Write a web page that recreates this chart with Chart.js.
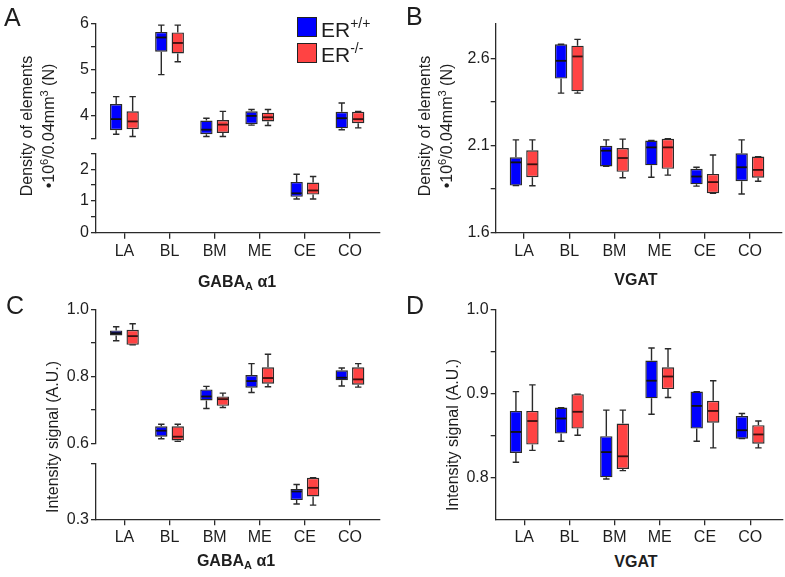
<!DOCTYPE html>
<html><head><meta charset="utf-8">
<script src="https://cdn.jsdelivr.net/npm/chart.js@4.4.1/dist/chart.umd.min.js"></script>
<style>
body{margin:0;background:#fff;}
#root{position:relative;width:785px;height:577px;overflow:hidden;background:#fff;font-family:"Liberation Sans",Arial,sans-serif;color:#1e1e1e;}
.cv{position:absolute;}
.t{position:absolute;white-space:nowrap;line-height:1;}
.letter{font-size:25px;line-height:25px;}
.ytitle{position:absolute;font-size:16px;line-height:22px;text-align:center;white-space:nowrap;transform:translate(-50%,-50%) rotate(-90deg);}
.xtitle{position:absolute;font-size:16px;line-height:16px;font-weight:bold;white-space:nowrap;transform:translateX(-50%);}
.xtitle sub{font-size:11px;vertical-align:-3px;line-height:0;}
.ytitle sup{font-size:11px;vertical-align:6px;line-height:0;}
.sq{position:absolute;width:20px;height:20px;box-sizing:border-box;border:1.4px solid #222;}
.leg{position:absolute;font-size:21px;line-height:21px;white-space:nowrap;}
.leg span{font-size:14px;vertical-align:9px;line-height:0;}
</style></head><body><div id="root">

<div class="cv" style="left:0;top:0;width:390px;height:150px"><canvas id="cA1"></canvas></div>
<div class="cv" style="left:0;top:140px;width:390px;height:125px"><canvas id="cA2"></canvas></div>
<div class="cv" style="left:400px;top:0;width:385px;height:265px"><canvas id="cB"></canvas></div>
<div class="cv" style="left:0;top:290px;width:390px;height:165px"><canvas id="cC1"></canvas></div>
<div class="cv" style="left:0;top:452px;width:390px;height:100px"><canvas id="cC2"></canvas></div>
<div class="cv" style="left:400px;top:290px;width:385px;height:262px"><canvas id="cD"></canvas></div>

<div class="t letter" style="left:4px;top:4.7px">A</div>
<div class="t letter" style="left:406px;top:4px">B</div>
<div class="t letter" style="left:6px;top:293px">C</div>
<div class="t letter" style="left:406px;top:293px">D</div>

<div class="sq" style="left:297px;top:17px;background:#0000ff"></div>
<div class="sq" style="left:297px;top:43px;background:#ff4343"></div>
<div class="leg" style="left:321px;top:18.9px">ER<span>+/+</span></div>
<div class="leg" style="left:321px;top:43.9px">ER<span>-/-</span></div>

<div class="ytitle" style="left:37.8px;top:126px">Density of elements<br>•10<sup>6</sup>/0.04mm<sup>3</sup> (N)</div>
<div class="ytitle" style="left:436.2px;top:126px">Density of elements<br>•10<sup>6</sup>/0.04mm<sup>3</sup> (N)</div>
<div class="ytitle" style="left:52.8px;top:437px;line-height:20px">Intensity signal (A.U.)</div>
<div class="ytitle" style="left:452.5px;top:435px;line-height:20px">Intensity signal (A.U.)</div>

<div class="xtitle" style="left:237px;top:273.8px">GABA<sub>A</sub> α1</div>
<div class="xtitle" style="left:636px;top:271.5px">VGAT</div>
<div class="xtitle" style="left:236px;top:553.2px">GABA<sub>A</sub> α1</div>
<div class="xtitle" style="left:636px;top:553.5px">VGAT</div>
</div>
<script>
// ---------- data (each entry: [whisker min, Q1, median, Q3, whisker max]) ----------
const categories = ['LA','BL','BM','ME','CE','CO'];
const seriesNames = ['ER+/+','ER-/-'];

const gabaDensityWT = [[3.59,3.68,3.92,4.25,4.41],[4.89,5.39,5.70,5.82,5.97],[3.54,3.59,3.69,3.89,3.94],[3.79,3.81,3.99,4.09,4.13],[1.06,1.13,1.24,1.60,1.84],[3.69,3.72,3.94,4.08,4.27]];
const gabaDensityKO = [[3.54,3.70,3.87,4.09,4.41],[5.17,5.35,5.58,5.81,5.97],[3.54,3.62,3.80,3.90,4.09],[3.78,3.87,3.96,4.06,4.13],[1.06,1.20,1.33,1.58,1.77],[3.73,3.83,3.92,4.08,4.09]];

const vgatDensityWT = [[1.870,1.870,2.003,2.032,2.132],[2.400,2.483,2.585,2.680,2.680],[1.980,1.980,2.070,2.098,2.132],[1.918,1.986,2.089,2.128,2.128],[1.867,1.877,1.922,1.966,1.975],[1.822,1.895,1.975,2.055,2.132]];
const vgatDensityKO = [[1.869,1.918,1.992,2.072,2.132],[2.400,2.410,2.610,2.672,2.708],[1.915,1.949,2.028,2.085,2.136],[1.930,1.966,2.089,2.138,2.138],[1.826,1.826,1.890,1.937,2.045],[1.895,1.915,1.960,2.036,2.036]];

const gabaIntensityWT = [[0.906,0.922,0.929,0.937,0.948],[0.614,0.620,0.638,0.651,0.657],[0.704,0.728,0.740,0.761,0.770],[0.752,0.766,0.786,0.804,0.838],[0.355,0.369,0.400,0.409,0.425],[0.771,0.788,0.796,0.818,0.825]];
const gabaIntensityKO = [[0.894,0.894,0.920,0.939,0.957],[0.606,0.609,0.620,0.651,0.657],[0.707,0.712,0.732,0.740,0.750],[0.769,0.778,0.795,0.827,0.866],[0.351,0.382,0.413,0.449,0.449],[0.768,0.775,0.791,0.827,0.838]];

const vgatIntensityWT = [[0.818,0.829,0.854,0.879,0.902],[0.843,0.852,0.870,0.883,0.883],[0.798,0.800,0.830,0.849,0.880],[0.875,0.894,0.915,0.939,0.954],[0.843,0.858,0.885,0.902,0.902],[0.846,0.846,0.856,0.873,0.876]];
const vgatIntensityKO = [[0.832,0.839,0.867,0.879,0.910],[0.850,0.858,0.878,0.899,0.899],[0.808,0.810,0.825,0.864,0.880],[0.895,0.905,0.920,0.931,0.953],[0.835,0.865,0.879,0.891,0.915],[0.835,0.840,0.851,0.862,0.867]];

// tick values and labelled ticks
const gabaDensityTicksHigh = [3.5,4,4.5,5,5.5,6];
const gabaDensityLabelsHigh = [4,5,6];
const gabaDensityTicksLow = [0,0.5,1,1.5,2,2.5];
const gabaDensityLabelsLow = [0,1,2];
const vgatDensityTicks = [1.6,1.85,2.1,2.35,2.6];
const vgatDensityLabels = [1.6,2.1,2.6];
const gabaIntensityTicksHigh = [0.6,0.7,0.8,0.9,1.0];
const gabaIntensityLabelsHigh = [0.6,0.8,1.0];
const gabaIntensityTicksLow = [0.3,0.5];
const gabaIntensityLabelsLow = [0.3];
const vgatIntensityTicks = [0.8,0.85,0.9,0.95,1.0];
const vgatIntensityLabels = [0.8,0.9,1.0];

// ---------- drawing ----------
Chart.defaults.font.family = "'Liberation Sans', Arial, sans-serif";
Chart.defaults.font.size = 16;
Chart.defaults.color = '#1e1e1e';
const AX = '#2a2a2a';

const boxPlugin = {
  id: 'boxWhiskers',
  afterDatasetsDraw(chart) {
    const ctx = chart.ctx;
    chart.data.datasets.forEach((ds, di) => {
      const meta = chart.getDatasetMeta(di);
      const ys = chart.scales[meta.yAxisID];
      meta.data.forEach((bar, j) => {
        const s = ds.stats[j];
        if (!ds.data[j] || ds.data[j].y === null) return;
        const p = bar.getProps(['x','width'], true);
        const x = p.x, half = p.width / 2, cap = p.width * 0.26;
        const pLo = ys.getPixelForValue(s[0]);
        const pQ1 = ys.getPixelForValue(s[1]);
        const pMed = ys.getPixelForValue(s[2]);
        const pQ3 = ys.getPixelForValue(s[3]);
        const pHi = ys.getPixelForValue(s[4]);
        ctx.save();
        ctx.strokeStyle = AX;
        ctx.lineWidth = 1.4;
        ctx.beginPath();
        ctx.moveTo(x, pQ3); ctx.lineTo(x, pHi);
        ctx.moveTo(x - cap, pHi); ctx.lineTo(x + cap, pHi);
        ctx.moveTo(x, pQ1); ctx.lineTo(x, pLo);
        ctx.moveTo(x - cap, pLo); ctx.lineTo(x + cap, pLo);
        ctx.stroke();
        ctx.strokeStyle = di === 0 ? '#111' : '#3a1010';
        ctx.lineWidth = 1.8;
        ctx.beginPath();
        ctx.moveTo(x - half + 1, pMed); ctx.lineTo(x + half - 1, pMed);
        ctx.stroke();
        ctx.restore();
      });
    });
  }
};

function near(a, list) { return list.some(v => Math.abs(v - a) < 1e-6); }

function makeChart(id, cfg) {
  const inRange = s => s[1] >= cfg.yMin - 1e-9 && s[3] <= cfg.yMax + 1e-9;
  const mk = (stats, i) => ({
    label: seriesNames[i],
    data: stats.map((s, k) => ({ x: k, y: inRange(s) ? [s[1], s[3]] : null })),
    stats: stats,
    backgroundColor: i === 0 ? '#0000ff' : '#ff4343',
    borderColor: AX,
    borderWidth: 1.4,
    borderSkipped: false,
    categoryPercentage: 0.73,
    barPercentage: 0.75
  });
  return new Chart(document.getElementById(id), {
    type: 'bar',
    data: { datasets: [mk(cfg.wt, 0), mk(cfg.ko, 1)] },
    options: {
      responsive: true, maintainAspectRatio: false, animation: false,
      layout: { padding: cfg.pad },
      plugins: { legend: { display: false }, tooltip: { enabled: false } },
      scales: {
        x: {
          type: 'linear', display: cfg.showX, min: -0.63, max: cfg.xMax, offset: false,
          afterBuildTicks: sc => { sc.ticks = categories.map((c, i) => ({ value: i })); },
          afterFit: sc => { if (cfg.showX) sc.height = cfg.xHeight; },
          ticks: { callback: v => categories[Math.round(v)], padding: 3, maxRotation: 0, autoSkip: false, color: '#1e1e1e' },
          grid: { display: true, offset: false, drawOnChartArea: false, drawTicks: true, tickLength: 6, color: AX, lineWidth: 1.3 },
          border: { display: true, color: AX, width: 1.3 }
        },
        y: {
          type: 'linear', min: cfg.yMin, max: cfg.yMax,
          afterBuildTicks: sc => { sc.ticks = cfg.ticks.map(v => ({ value: v })); },
          afterFit: sc => { sc.width = cfg.yWidth; },
          ticks: { callback: v => near(v, cfg.labels) ? v.toFixed(cfg.dec) : '', padding: cfg.tickPad, autoSkip: false, color: '#1e1e1e' },
          grid: { display: true, drawOnChartArea: false, drawTicks: true, tickLength: 5, color: AX, lineWidth: 1.3 },
          border: { display: true, color: AX, width: 1.3 }
        }
      }
    },
    plugins: [boxPlugin]
  });
}

makeChart('cA1', { wt: gabaDensityWT, ko: gabaDensityKO, yMin: 3.5, yMax: 6, ticks: gabaDensityTicksHigh, labels: gabaDensityLabelsHigh, dec: 0,
  showX: false, xMax: 5.65, yWidth: 96, tickPad: 2, pad: { top: 23.7, right: 10.7, bottom: 7.7, left: 0 } });
makeChart('cA2', { wt: gabaDensityWT, ko: gabaDensityKO, yMin: 0, yMax: 2.5, ticks: gabaDensityTicksLow, labels: gabaDensityLabelsLow, dec: 0,
  showX: true, xHeight: 32.3, xMax: 5.65, yWidth: 96, tickPad: 2, pad: { top: 13.3, right: 10.7, bottom: 0, left: 0 } });
makeChart('cB', { wt: vgatDensityWT, ko: vgatDensityKO, yMin: 1.6, yMax: 2.8, ticks: vgatDensityTicks, labels: vgatDensityLabels, dec: 1,
  showX: true, xHeight: 32.3, xMax: 5.70, yWidth: 95.7, tickPad: 1, pad: { top: 23.3, right: 3.5, bottom: 0, left: 0 } });
makeChart('cC1', { wt: gabaIntensityWT, ko: gabaIntensityKO, yMin: 0.6, yMax: 1.0, ticks: gabaIntensityTicksHigh, labels: gabaIntensityLabelsHigh, dec: 1,
  showX: false, xMax: 5.65, yWidth: 96, tickPad: 2, pad: { top: 19.3, right: 10.7, bottom: 6.3, left: 0 } });
makeChart('cC2', { wt: gabaIntensityWT, ko: gabaIntensityKO, yMin: 0.3, yMax: 0.5, ticks: gabaIntensityTicksLow, labels: gabaIntensityLabelsLow, dec: 1,
  showX: true, xHeight: 32.7, xMax: 5.65, yWidth: 96, tickPad: 2, pad: { top: 7.3, right: 10.7, bottom: 0, left: 0 } });
makeChart('cD', { wt: vgatIntensityWT, ko: vgatIntensityKO, yMin: 0.75, yMax: 1.0, ticks: vgatIntensityTicks, labels: vgatIntensityLabels, dec: 1,
  showX: true, xHeight: 32.7, xMax: 5.72, yWidth: 95.7, tickPad: 2, pad: { top: 19.3, right: 2.3, bottom: 0, left: 0 } });
</script>
</body></html>
